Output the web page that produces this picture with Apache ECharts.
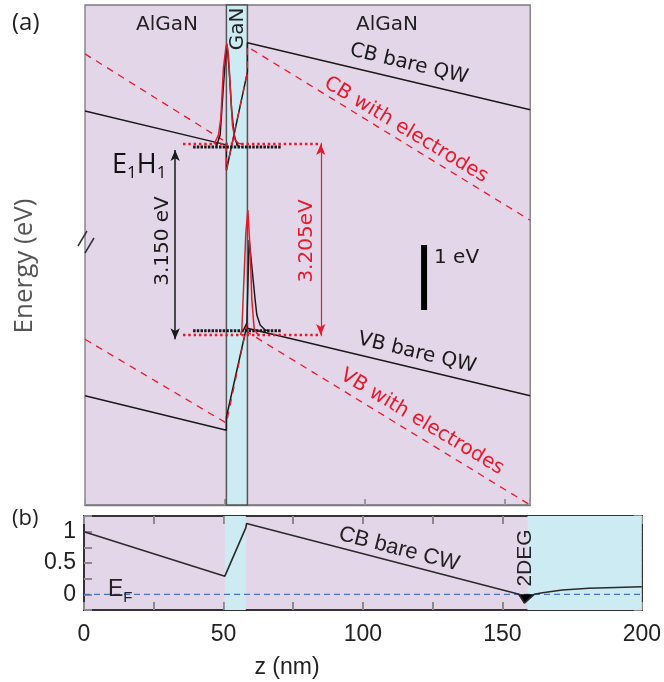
<!DOCTYPE html>
<html>
<head>
<meta charset="utf-8">
<script src="https://cdn.jsdelivr.net/npm/echarts@6/dist/echarts.min.js"></script>
<style>
html,body{margin:0;padding:0;background:#fff;}
#chart{width:664px;height:682px;}
</style>
</head>
<body>
<div id="chart"></div>
<script>
// ---------- Panel (a): band diagram (z in nm, energy in eV) ----------
const gaNWell = [50.5, 58];          // GaN quantum well limits (nm)
const barrierEnd = 159;              // end of AlGaN barrier shown in (a)
const cbBare = [[0,6.06],[50.5,5.54],[50.5,5.15],[58,6.66],[58,7.11],[159,6.08]];
const cbElec = [[0,6.94],[50.5,5.58],[50.5,5.15],[58,6.66],[58,7.05],[159,4.38]];
const vbBare = [[0,1.68],[50.5,1.15],[50.5,1.35],[58,2.80],[58,2.72],[159,1.68]];
const vbElec = [[0,2.55],[50.5,1.26],[58,2.80],[58,2.66],[159,0.0]];
// confined levels
const e1Red   = [[35.0,5.554],[84.6,5.554]];
const e1Black = [[38.6,5.508],[70.3,5.508]];
const h1Red   = [[35.0,2.615],[84.6,2.615]];
const h1Black = [[38.6,2.682],[70.3,2.682]];
// wavefunctions
const psiERed   = [[46.12,5.554],[47.66,5.692],[48.51,5.949],[49.44,6.723],[50.30,7.031],[50.66,7.103],[51.23,6.923],[51.84,6.462],[52.66,5.846],[53.62,5.615],[54.80,5.565],[56.0,5.554]];
const psiEBlack = [[46.84,5.508],[48.26,5.692],[49.34,6.385],[50.41,7.031],[50.77,7.077],[51.48,6.692],[52.37,6.077],[53.27,5.692],[54.34,5.538],[55.41,5.508]];
const psiHRed   = [[55.5,2.615],[56.02,2.692],[57.44,4.185],[58.16,4.538],[58.98,3.923],[59.59,3.154],[60.41,2.718],[61.37,2.642],[62.3,2.615]];
const psiHBlack = [[56.5,2.682],[57.19,2.692],[57.80,2.800],[58.62,4.077],[59.59,3.666],[60.77,3.154],[61.37,2.923],[62.55,2.769],[64.34,2.692],[65.5,2.682]];
// transition arrows: [z, Etop, Ebottom]
const arrowBlack = [32.2, 5.462, 2.549];
const arrowRed   = [84.2, 5.554, 2.615];
const scaleBar   = [[121.1,3.0],[121.1,4.0]];   // 1 eV
const energyMax  = 7.692;

// ---------- Panel (b): CB profile ----------
const cbCW = [[0,1.0],[50.5,0.29],[58,1.06],[58.3,1.13],[156,0.0],[157.9,-0.14],[161.4,0.0],[164.4,0.026],[171.5,0.069],[181,0.096],[190.6,0.11],[200,0.12]];
const dip2DEG = [[155.5,0.0],[157.9,-0.14],[161.4,0.0]];
const fermi = [[0,0],[200,0]];
const zTicksB = [0,50,100,150,200];
const yTicksB = [0,0.5,1];

const PURPLE = '#e4d6e9', CYAN = '#cdebf2', RED = '#e8192c', BLK = '#1a1a1a', BLUE = '#4a72c9';
const DJ = 'DejaVu Sans', LIB = 'Liberation Sans', OS = 'Open Sans';

const chart = echarts.init(document.getElementById('chart'), null, {renderer:'canvas'});

function line(data, color, width, type, z) {
  return {type:'line', xAxisIndex:0, yAxisIndex:0, data:data, showSymbol:false, symbol:'none', silent:true,
    lineStyle:{color:color, width:width, type:type||'solid', cap:'butt'}, z:z||3, animation:false};
}
const deg = Math.PI/180;
function txt(text, x, y, opt) {
  opt = opt || {};
  return {type:'text', x:x, y:y, rotation:(opt.rot||0)*deg, z:100, silent:true,
    style:{text:text, fill:opt.color||'#1a1a1a', fontSize:opt.size||20, fontFamily:opt.font||DJ,
      align:opt.align||'center', verticalAlign:'middle'}};
}
function tick(len, c) { return {show:true, inside:true, length:len, lineStyle:{color:c||'#8a8a8a', width:2}}; }

const option = {
  animation:false,
  grid:[
    {left:85, top:5, width:445.2, height:500, show:true, backgroundColor:PURPLE, borderColor:'#7a7a7a', borderWidth:1.3},
    {left:84, top:516, width:561, height:94, show:true, backgroundColor:PURPLE, borderColor:'#333', borderWidth:2}
  ],
  xAxis:[
    {gridIndex:0, type:'value', min:0, max:barrierEnd, interval:50,
      axisLine:{show:true, onZero:false, lineStyle:{color:'#7a7a7a', width:1.3}},
      axisTick:tick(6, '#999'), axisLabel:{show:false}, splitLine:{show:false}},
    {gridIndex:1, type:'value', min:0, max:200, interval:25,
      axisLine:{show:true, onZero:false, lineStyle:{color:'#333', width:2}},
      axisTick:tick(8),
      axisLabel:{show:true, margin:13, fontSize:23, fontFamily:LIB, color:'#222',
        formatter:function(v){ return zTicksB.indexOf(v) >= 0 ? String(v) : ''; }},
      splitLine:{show:false}},
    {gridIndex:1, type:'value', position:'top', min:0, max:200, interval:25,
      axisLine:{show:true, onZero:false, lineStyle:{color:'#333', width:2}},
      axisTick:tick(8), axisLabel:{show:false}, splitLine:{show:false}}
  ],
  yAxis:[
    {gridIndex:0, type:'value', min:0, max:energyMax, show:false},
    {gridIndex:1, type:'value', min:-0.25, max:1.25, interval:0.25,
      axisLine:{show:true, onZero:false, lineStyle:{color:'#333', width:2}},
      axisTick:tick(8),
      axisLabel:{show:true, margin:8, fontSize:23, fontFamily:LIB, color:'#222',
        formatter:function(v){ for (const t of yTicksB) if (Math.abs(v-t)<1e-6) return String(t); return ''; }},
      splitLine:{show:false}},
    {gridIndex:1, type:'value', position:'right', min:-0.25, max:1.25, interval:0.25,
      axisLine:{show:true, onZero:false, lineStyle:{color:'#333', width:2}},
      axisTick:tick(8), axisLabel:{show:false}, splitLine:{show:false}}
  ],
  series:[
    {type:'line', xAxisIndex:0, yAxisIndex:0, data:[], z:1, silent:true,
      markArea:{silent:true, itemStyle:{color:CYAN, borderColor:'#555', borderWidth:1.5},
        data:[[{xAxis:gaNWell[0]},{xAxis:gaNWell[1]}]]}},
    line(cbBare, BLK, 1.5),
    line(vbBare, BLK, 1.5),
    line(cbElec, RED, 1.3, [7,6], 4),
    line(vbElec, RED, 1.3, [7,6], 4),
    line(e1Black, BLK, 3, [2.5,1.2], 4),
    line(h1Black, BLK, 3, [2.5,1.2], 4),
    line(e1Red, RED, 2.5, [2.5,2.8], 5),
    line(h1Red, RED, 2.5, [2.5,2.8], 5),
    line(psiEBlack, BLK, 1.5, 'solid', 5),
    line(psiHBlack, BLK, 1.5, 'solid', 5),
    line(psiERed, RED, 1.5, 'solid', 6),
    line(psiHRed, RED, 1.5, 'solid', 6),
    line(scaleBar, '#000', 6, 'solid', 5),
    {type:'line', xAxisIndex:0, yAxisIndex:0, data:[], z:6, silent:true,
      markLine:{silent:true, symbol:['arrow','arrow'], symbolSize:[7,11], label:{show:false},
        data:[
          [{coord:[arrowBlack[0],arrowBlack[1]], lineStyle:{color:BLK, width:1.5, type:'solid'}},{coord:[arrowBlack[0],arrowBlack[2]]}],
          [{coord:[arrowRed[0],arrowRed[1]], lineStyle:{color:RED, width:1.2, type:'solid'}},{coord:[arrowRed[0],arrowRed[2]]}]
        ]}},
    {type:'line', xAxisIndex:1, yAxisIndex:1, data:[], z:1, silent:true,
      markArea:{silent:true, itemStyle:{color:CYAN},
        data:[[{xAxis:gaNWell[0]},{xAxis:gaNWell[1]}],[{xAxis:barrierEnd},{xAxis:200}]]}},
    {type:'line', xAxisIndex:1, yAxisIndex:1, data:fermi, showSymbol:false, symbol:'none', silent:true, z:3,
      lineStyle:{color:BLUE, width:1.3, type:[6,4]}},
    {type:'line', xAxisIndex:1, yAxisIndex:1, data:dip2DEG, showSymbol:false, symbol:'none', silent:true, z:4,
      lineStyle:{width:0}, areaStyle:{color:'#000', opacity:1, origin:'auto'}},
    {type:'line', xAxisIndex:1, yAxisIndex:1, data:cbCW, showSymbol:false, symbol:'none', silent:true, z:5,
      lineStyle:{color:'#2a2a2a', width:1.6}}
  ],
  graphic:[
    txt('(a)', 12, 23, {font:OS, size:24, align:'left', color:'#222'}),
    txt('AlGaN', 167, 25, {color:'#222'}),
    txt('AlGaN', 387, 25, {color:'#222'}),
    txt('GaN', 238, 29, {rot:90, color:'#222'}),
    txt('CB bare QW', 409, 64, {rot:-13.5}),
    txt('CB with electrodes', 406, 130, {rot:-31, color:RED}),
    txt('VB bare QW', 417, 353, {rot:-13.5}),
    txt('VB with electrodes', 422, 422, {rot:-31, color:RED}),
    txt('1 eV', 434, 258, {align:'left'}),
    {type:'text', x:112, y:165, z:100, silent:true,
      style:{text:'{a|E}{s|1}{a|H}{s|1}', verticalAlign:'middle', align:'left',
        rich:{a:{fontSize:27, fontFamily:OS, fill:'#111', lineHeight:34, verticalAlign:'middle'},
              s:{fontSize:17, fontFamily:OS, fill:'#111', lineHeight:34, verticalAlign:'bottom'}}}},
    txt('3.150 eV', 163, 241, {rot:90}),
    txt('3.205eV', 307, 241, {rot:90, color:RED}),
    txt('Energy (eV)', 25, 266, {rot:90, font:OS, size:26, color:'#555'}),
    {type:'line', z:100, silent:true, shape:{x1:78,y1:246,x2:87,y2:231}, style:{stroke:'#333', lineWidth:1.5}},
    {type:'line', z:100, silent:true, shape:{x1:85,y1:253,x2:94,y2:238}, style:{stroke:'#333', lineWidth:1.5}},
    txt('(b)', 12, 519, {font:OS, size:22, align:'left', color:'#222'}),
    {type:'text', x:108, y:590, z:100, silent:true,
      style:{text:'{a|E}{s|F}', verticalAlign:'middle', align:'left',
        rich:{a:{fontSize:23, fontFamily:LIB, fill:'#222', lineHeight:30, verticalAlign:'middle'},
              s:{fontSize:15, fontFamily:LIB, fill:'#222', lineHeight:30, verticalAlign:'bottom'}}}},
    txt('CB bare CW', 399, 549, {rot:-14.5, font:LIB, size:22, color:'#222'}),
    txt('2DEG', 525, 558, {rot:90, font:LIB, size:21, color:'#222'}),
    txt('z (nm)', 287, 668, {font:LIB, size:23, color:'#222'})
  ]
};
chart.setOption(option);
</script>
</body>
</html>
